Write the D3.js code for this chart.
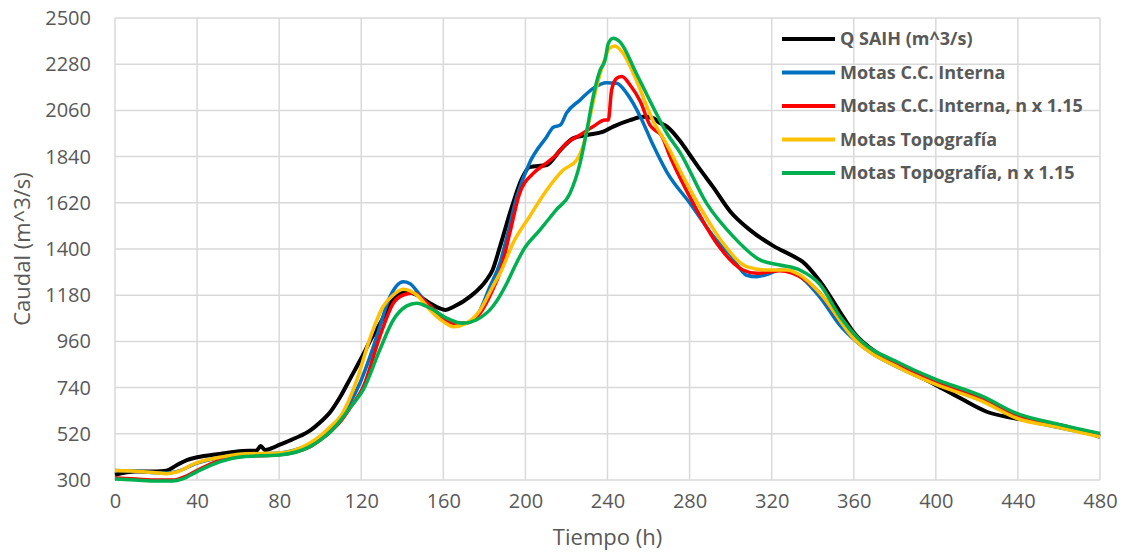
<!DOCTYPE html>
<html>
<head>
<meta charset="utf-8">
<script src="https://cdn.jsdelivr.net/npm/d3@7"></script>
<style>
  body { margin: 0; background: #fff; }
  text { font-family: 'Open Sans', sans-serif; fill: #595959; }
</style>
</head>
<body>
<div id="chart"></div>
<script>
// series: [hours, caudal]
const qSaih = [[0,325],[10,340],[20,340],[25,344],[30,370],[35,395],[40,408],[51,424],[62,438],[69,440],[71,462],[73,443],[76,450],[80,467],[88,500],[95,535],[100,575],[105,625],[110,700],[115,790],[120,880],[125,975],[130,1060],[134,1140],[138,1185],[142,1197],[148.6,1173],[153.5,1142],[158,1118],[161,1110],[165,1125],[173,1173],[181,1252],[184,1300],[187.6,1411],[194,1619],[198,1729],[202,1790],[210.4,1800],[217,1871],[223.4,1928],[230,1943],[238,1959],[242.8,1983],[251,2014],[257.4,2030],[262,2024],[265.6,2000],[269,1983],[275,1919],[280,1850],[285,1780],[291.5,1695],[299.7,1580],[309.5,1490],[320.8,1415],[330.6,1365],[335,1340],[343.6,1245],[353.3,1100],[359.8,1005],[374,887],[398.6,760],[411.8,690],[424.8,625],[437.8,595],[463.8,554],[480,506]];

const ccInterna = [[0,345],[10,342],[20,335],[25,333],[30,340],[40,380],[50,405],[62,422],[80,428],[90,450],[95,470],[100,505],[105,550],[110,600],[114,660],[119.4,762],[124,880],[127.5,982],[134,1173],[140.5,1244],[143.6,1236],[148.6,1181],[155,1102],[163,1054],[169.6,1046],[176,1078],[182.7,1220],[187.6,1333],[191,1459],[195.8,1649],[202,1810],[210.4,1935],[213.6,1980],[217,1990],[220,2047],[226.6,2109],[233,2165],[239.6,2192],[244.5,2189],[249.4,2141],[256,2030],[262,1900],[269,1765],[280,1620],[293,1443],[300,1370],[307.8,1275],[312.7,1268],[318,1280],[324,1300],[330,1290],[343.6,1170],[353,1040],[360,970],[382.5,832],[398.8,765],[423,678],[439.4,598],[460,550],[480,510]];

const ccInterna115 = [[0,310],[10,305],[20,300],[28,300],[35,320],[40,345],[50,390],[62,412],[80,420],[95,458],[100,490],[105,530],[110,580],[115,650],[121,744],[129,982],[135.6,1142],[140.5,1181],[145.4,1190],[152,1142],[158.4,1086],[165,1046],[171,1046],[178,1095],[184,1205],[187.6,1290],[192.5,1480],[197,1660],[203.8,1760],[210.4,1810],[215,1848],[220,1903],[226.6,1943],[233,1983],[238.8,2014],[240.4,2014],[242,2157],[244.5,2213],[247,2221],[251,2181],[256,2102],[260.7,1990],[264,1960],[266,1945],[270.5,1840],[281.8,1617],[293.2,1427],[306,1300],[312.7,1284],[318,1290],[324,1297],[330,1285],[343.6,1189],[353.3,1060],[363,955],[382.5,845],[398.8,775],[423,690],[439.4,610],[460,560],[480,518]];

const topografia = [[0,345],[10,342],[20,335],[25,330],[30,338],[40,383],[51,408],[62,424],[80,428],[95,476],[100,510],[105,555],[110,605],[114,680],[118,780],[124,967],[130.6,1125],[135.6,1181],[140.5,1208],[147,1181],[153.5,1110],[160,1054],[165,1030],[171,1046],[178,1110],[184,1220],[188.4,1300],[194,1429],[202,1554],[210.4,1681],[218.4,1776],[225,1824],[228,1887],[231.5,2030],[234.7,2173],[238,2284],[241,2356],[243.7,2367],[247.6,2332],[254,2205],[262,2014],[268.8,1900],[275,1780],[285,1601],[296.4,1427],[307.8,1316],[317.6,1300],[327.3,1300],[333.8,1276],[343.6,1189],[359.8,975],[382.5,832],[398.8,760],[423,673],[439.4,594],[460,550],[480,506]];

const topografia115 = [[0,305],[10,300],[20,295],[28,295],[33,305],[40,340],[51,387],[62,411],[80,419],[95,459],[100,490],[105,530],[110,585],[115,650],[121,730],[129,919],[135.6,1062],[142,1128],[147,1142],[153.5,1119],[161.6,1071],[169.6,1046],[176,1062],[184,1125],[191,1238],[194,1300],[199,1395],[207,1490],[215,1586],[221.7,1665],[226.6,1808],[230,1967],[233,2125],[236.4,2252],[238.8,2300],[240.4,2379],[242.8,2403],[246,2387],[254,2237],[262,2080],[269,1950],[275.3,1860],[288.3,1617],[301.3,1459],[314.3,1348],[324,1324],[333.7,1300],[343.6,1230],[353.3,1078],[363,967],[382.5,856],[398.8,784],[423,697],[439.4,617],[460,565],[480,522]];

const seriesNames = ['Q SAIH (m^3/s)', 'Motas C.C. Interna', 'Motas C.C. Interna, n x 1.15', 'Motas Topografía', 'Motas Topografía, n x 1.15'];
const seriesData = [qSaih, ccInterna, ccInterna115, topografia, topografia115];
const seriesColors = ['#000000', '#0070C0', '#FF0000', '#FFC000', '#00B050'];

const xTicks = d3.range(0, 481, 40);
const yTicks = d3.range(300, 2501, 220);

const width = 1123;
const height = 552;
const margin = {top: 18, right: 23, bottom: 72, left: 115};

const svg = d3.select('#chart')
    .append('svg')
    .attr('width', width)
    .attr('height', height);

const x = d3.scaleLinear()
    .domain([0, 480])
    .range([margin.left, width - margin.right]);

const y = d3.scaleLinear()
    .domain([300, 2500])
    .range([height - margin.bottom, margin.top]);

// grid
const grid = svg.append('g').attr('class', 'grid');
grid.selectAll('.vline')
    .data(xTicks)
    .enter()
    .append('line')
    .attr('x1', d => x(d)).attr('x2', d => x(d))
    .attr('y1', y(300)).attr('y2', y(2500))
    .attr('stroke', '#d9d9d9')
    .attr('stroke-width', 1.5);
grid.selectAll('.hline')
    .data(yTicks)
    .enter()
    .append('line')
    .attr('x1', x(0)).attr('x2', x(480))
    .attr('y1', d => y(d)).attr('y2', d => y(d))
    .attr('stroke', '#d9d9d9')
    .attr('stroke-width', 1.5);

// axes labels
const xAxis = d3.axisBottom(x).tickValues(xTicks).tickSize(0).tickPadding(14);
const yAxis = d3.axisLeft(y).tickValues(yTicks).tickFormat(d3.format('d')).tickSize(0).tickPadding(24);

svg.append('g')
    .attr('transform', `translate(0,${y(300)})`)
    .call(xAxis)
    .call(g => g.select('.domain').remove())
    .selectAll('text')
    .style('font-size', '20px')
    .attr('fill', '#595959');

svg.append('g')
    .attr('transform', `translate(${x(0)},0)`)
    .call(yAxis)
    .call(g => g.select('.domain').remove())
    .selectAll('text')
    .style('font-size', '20px')
    .attr('fill', '#595959');

svg.append('text')
    .attr('x', (x(0) + x(480)) / 2)
    .attr('y', 545)
    .attr('text-anchor', 'middle')
    .style('font-size', '22px')
    .text('Tiempo (h)');

svg.append('text')
    .attr('transform', `translate(30,${(y(300) + y(2500)) / 2}) rotate(-90)`)
    .attr('text-anchor', 'middle')
    .style('font-size', '22px')
    .text('Caudal (m^3/s)');

// lines
const line = d3.line()
    .x(d => x(d[0]))
    .y(d => y(d[1]))
    .curve(d3.curveMonotoneX);

svg.append('g')
    .selectAll('path')
    .data(seriesData)
    .enter()
    .append('path')
    .attr('d', d => line(d))
    .attr('fill', 'none')
    .attr('stroke', (d, i) => seriesColors[i])
    .attr('stroke-width', (d, i) => i === 0 ? 4 : 3.5)
    .attr('stroke-linejoin', 'round');

// legend
const legend = svg.append('g').attr('transform', 'translate(782,39)');
const rows = legend.selectAll('g')
    .data(seriesNames)
    .enter()
    .append('g')
    .attr('transform', (d, i) => `translate(0,${i * 33.5})`);
rows.append('line')
    .attr('x1', 0).attr('x2', 53)
    .attr('stroke', (d, i) => seriesColors[i])
    .attr('stroke-width', 4);
rows.append('text')
    .attr('x', 58)
    .attr('dy', '0.35em')
    .style('font-size', '18px')
    .style('font-weight', 'bold')
    .text(d => d);
</script>
</body>
</html>
